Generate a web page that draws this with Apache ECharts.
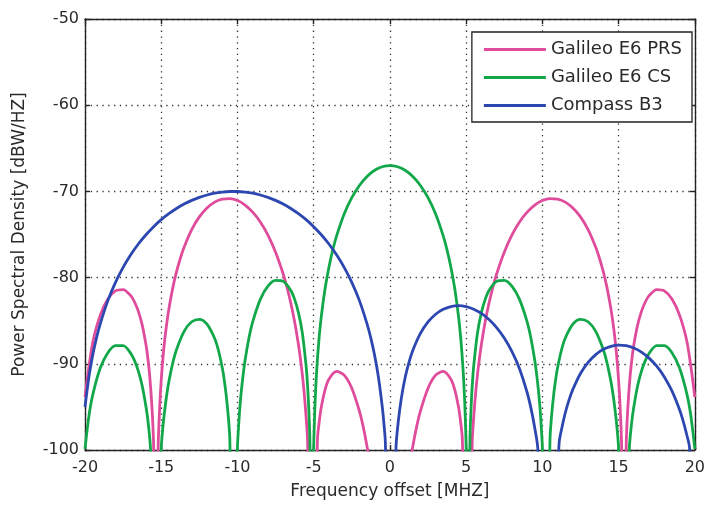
<!DOCTYPE html>
<html>
<head>
<meta charset="utf-8">
<script src="https://cdn.jsdelivr.net/npm/echarts@6/dist/echarts.min.js"></script>
<style>
    html, body { margin: 0; padding: 0; background: #fff; }
    #chart { width: 708px; height: 506px; }
</style>
</head>
<body>
<div id="chart"></div>
<script>
// values, one line per lobe; -125 / -130 mark spectral nulls (below the -100 floor, clipped)
var prsX = [
    -20, -19.5, -19, -18.5, -18, -17.5, -17, -16.75, -16.5, -16.25, -16, -15.875, -15.75, -15.6, -15.5, -15.345,
    -15.2, -15.1, -15, -14.875, -14.75, -14.625, -14.5, -14.25, -14, -13.75, -13.5, -13, -12.5, -12, -11.5, -11, -10.5, -10, -9.5, -9, -8.5, -8, -7.5, -7, -6.75, -6.5, -6.25, -6, -5.875, -5.75, -5.625, -5.5, -5.4, -5.115,
    -4.75, -4.625, -4.5, -4.25, -4, -3.5, -3, -2.5, -2, -1.75, -1.5, -1.25, 0,
    1.25, 1.5, 1.75, 2, 2.5, 3, 3.5, 4, 4.25, 4.5, 4.625, 4.75, 5.115,
    5.4, 5.5, 5.625, 5.75, 5.875, 6, 6.25, 6.5, 6.75, 7, 7.5, 8, 8.5, 9, 9.5, 10, 10.5, 11, 11.5, 12, 12.5, 13, 13.5, 13.75, 14, 14.25, 14.5, 14.625, 14.75, 14.875, 15, 15.1, 15.2, 15.345,
    15.5, 15.6, 15.75, 15.875, 16, 16.25, 16.5, 16.75, 17, 17.5, 18, 18.5, 19, 19.5, 20];
var prsY = [
    -93.85, -87.6, -84.35, -82.48, -81.54, -81.39, -82.09, -82.83, -83.92, -85.49, -87.8, -89.41, -91.53, -95.29, -99.48, -125,
    -99.67, -94.99, -91.9, -89.08, -86.91, -85.15, -83.66, -81.25, -79.34, -77.78, -76.47, -74.43, -72.96, -71.93, -71.24, -70.89, -70.84, -71.06, -71.58, -72.41, -73.55, -75.07, -77.06, -79.58, -81.15, -82.96, -85.11, -87.76, -89.34, -91.16, -93.35, -96.1, -98.96, -125,
    -98.7, -96.56, -95.02, -92.99, -91.79, -90.89, -91.32, -92.83, -95.49, -97.32, -99.6, -102.4, -130,
    -102.4, -99.6, -97.32, -95.49, -92.83, -91.32, -90.89, -91.79, -92.99, -95.02, -96.56, -98.7, -125,
    -98.96, -96.1, -93.35, -91.16, -89.34, -87.76, -85.11, -82.96, -81.15, -79.58, -77.06, -75.07, -73.55, -72.41, -71.58, -71.06, -70.84, -70.89, -71.24, -71.93, -72.96, -74.43, -76.47, -77.78, -79.34, -81.25, -83.66, -85.15, -86.91, -89.08, -91.9, -94.99, -99.67, -125,
    -99.48, -95.29, -91.53, -89.41, -87.8, -85.49, -83.92, -82.83, -82.09, -81.39, -81.54, -82.48, -84.35, -87.6, -93.85];

var csX = [
    -20, -19.75, -19.5, -19, -18.5, -18, -17.5, -17, -16.75, -16.5, -16.25, -16, -15.85, -15.7, -15.345,
    -15, -14.9, -14.8, -14.65, -14.5, -14.25, -14, -13.5, -13, -12.5, -12, -11.5, -11.25, -11, -10.9, -10.75, -10.6, -10.5, -10.23,
    -10, -9.9, -9.8, -9.65, -9.5, -9.25, -9, -8.5, -8, -7.5, -7, -6.5, -6.25, -6, -5.75, -5.5, -5.42, -5.35, -5.25, -5.115,
    -5, -4.95, -4.9, -4.8, -4.65, -4.5, -4.25, -4, -3.75, -3.5, -3, -2.5, -2, -1.5, -1, -0.5, 0, 0.5, 1, 1.5, 2, 2.5, 3, 3.5, 3.75, 4, 4.25, 4.5, 4.65, 4.8, 4.9, 4.95, 5, 5.115,
    5.25, 5.35, 5.42, 5.5, 5.75, 6, 6.25, 6.5, 7, 7.5, 8, 8.5, 9, 9.25, 9.5, 9.65, 9.8, 9.9, 10, 10.23,
    10.5, 10.6, 10.75, 10.9, 11, 11.25, 11.5, 12, 12.5, 13, 13.5, 14, 14.25, 14.5, 14.65, 14.8, 14.9, 15, 15.345,
    15.7, 15.85, 16, 16.25, 16.5, 16.75, 17, 17.5, 18, 18.5, 19, 19.5, 19.75, 20];
var csY = [
    -99.88, -96.16, -93.66, -90.49, -88.71, -87.89, -87.89, -88.78, -89.63, -90.84, -92.54, -94.99, -96.93, -99.98, -125,
    -99.83, -97.5, -95.84, -93.74, -92.08, -89.95, -88.36, -86.23, -85.12, -84.84, -85.41, -87.04, -88.43, -90.42, -91.47, -93.46, -96.14, -98.8, -125,
    -99.77, -96.54, -94.15, -91.6, -89.58, -87.03, -85.13, -82.53, -81.0, -80.32, -80.43, -81.5, -82.53, -84.06, -86.36, -90.18, -92.0, -94.14, -98.8, -125,
    -99.77, -96.54, -94.15, -90.71, -87.12, -84.49, -81.24, -78.79, -76.82, -75.19, -72.63, -70.73, -69.31, -68.27, -67.55, -67.14, -67, -67.14, -67.55, -68.27, -69.31, -70.73, -72.63, -75.19, -76.82, -78.79, -81.24, -84.49, -87.12, -90.71, -94.15, -96.54, -99.77, -125,
    -98.8, -94.14, -92.0, -90.18, -86.36, -84.06, -82.53, -81.5, -80.43, -80.32, -81.0, -82.53, -85.13, -87.03, -89.58, -91.6, -94.15, -96.54, -99.77, -125,
    -98.8, -96.14, -93.46, -91.47, -90.42, -88.43, -87.04, -85.41, -84.84, -85.12, -86.23, -88.36, -89.95, -92.08, -93.74, -95.84, -97.5, -99.83, -125,
    -99.98, -96.93, -94.99, -92.54, -90.84, -89.63, -88.78, -87.89, -87.89, -88.71, -90.49, -93.66, -96.16, -99.88];

var b3X = [
    -20, -19.75, -19.5, -19.25, -19, -18.5, -18, -17.5, -17, -16.5, -16, -15.5, -15, -14.5, -14, -13.5, -13, -12.5, -12, -11.5, -11, -10.5,
    -10, -9.5, -9, -8.5, -8, -7.5, -7, -6.5, -6, -5.5, -5, -4.5, -4, -3.5, -3, -2.5, -2, -1.5, -1.25, -1, -0.75, -0.5, -0.4, -0.3, 0.05,
    0.4, 0.55, 0.75, 1, 1.25, 1.5, 2, 2.5, 3, 3.5, 4, 4.5, 5, 5.5, 6, 6.5, 7, 7.5, 8, 8.5, 9, 9.25, 9.5, 9.7, 10.35,
    11.1, 11.25, 11.5, 11.75, 12, 12.5, 13, 13.5, 14, 14.5, 15, 15.5, 16, 16.5, 17, 17.5, 18, 18.5, 19, 19.25, 19.5, 19.65, 20.65];
var b3Y = [
    -95.01, -91.58, -89.05, -87.03, -85.36, -82.67, -80.55, -78.81, -77.35, -76.1, -75.03, -74.09, -73.28, -72.59, -71.98, -71.47, -71.04, -70.69, -70.42, -70.21, -70.08, -70.01,
    -70.01, -70.08, -70.21, -70.42, -70.69, -71.04, -71.47, -71.98, -72.59, -73.28, -74.09, -75.03, -76.1, -77.35, -78.81, -80.55, -82.67, -85.36, -87.03, -89.05, -91.58, -95.01, -96.8, -99.07, -125,
    -99.68, -96.69, -93.99, -91.59, -89.83, -88.46, -86.48, -85.15, -84.25, -83.68, -83.36, -83.26, -83.37, -83.67, -84.16, -84.87, -85.8, -87.01, -88.56, -90.57, -93.33, -95.14, -97.43, -99.8, -125,
    -99.16, -97.67, -95.71, -94.19, -92.97, -91.12, -89.83, -88.93, -88.32, -87.97, -87.83, -87.9, -88.17, -88.64, -89.34, -90.28, -91.52, -93.15, -95.34, -96.74, -98.43, -99.65, -125];

var seriesNames = ['Galileo E6 PRS', 'Galileo E6 CS', 'Compass B3'];
var seriesColors = ['#e04c9c', '#12a84a', '#2c47b0'];

var FONT = 'DejaVu Sans';
var TEXT = '#2a2a2a';

function pairs(xs, ys) {
    var out = [];
    for (var i = 0; i < xs.length; i++) {
        out.push([xs[i], ys[i]]);
    }
    return out;
}

var gridLine = { show: true, lineStyle: { color: '#333', width: 1.3, type: [1.3, 4.5] } };
var frameLine = { show: true, onZero: false, lineStyle: { color: '#222', width: 1.4 } };
var innerTick = { show: true, inside: true, length: 5, lineStyle: { color: '#222', width: 1.4 } };

var chart = echarts.init(document.getElementById('chart'), null, { renderer: 'canvas' });

chart.setOption({
    animation: false,
    backgroundColor: '#fff',
    color: seriesColors,
    grid: { left: 85, right: 9, top: 19, bottom: 56 },
    legend: {
        orient: 'vertical',
        right: 16,
        top: 32,
        data: seriesNames,
        icon: 'rect',
        itemWidth: 62,
        itemHeight: 3,
        itemGap: 9,
        padding: [8, 10, 7, 12],
        backgroundColor: '#fff',
        borderColor: '#222',
        borderWidth: 1.3,
        borderRadius: 0,
        textStyle: { fontFamily: FONT, fontSize: 18, color: TEXT, lineHeight: 19 }
    },
    xAxis: [{
        type: 'value',
        min: -20,
        max: 20,
        interval: 5,
        position: 'bottom',
        name: 'Frequency offset [MHZ]',
        nameLocation: 'middle',
        nameGap: 33,
        nameTextStyle: { fontFamily: FONT, fontSize: 17, color: TEXT },
        axisLine: frameLine,
        axisTick: innerTick,
        axisLabel: { fontFamily: FONT, fontSize: 16, color: TEXT, margin: 10 },
        splitLine: gridLine
    }, {
        type: 'value',
        min: -20,
        max: 20,
        interval: 5,
        position: 'top',
        axisLine: frameLine,
        axisTick: innerTick,
        axisLabel: { show: false },
        splitLine: { show: false }
    }],
    yAxis: [{
        type: 'value',
        min: -100,
        max: -50,
        interval: 10,
        position: 'left',
        name: 'Power Spectral Density [dBW/HZ]',
        nameLocation: 'middle',
        nameGap: 57,
        nameTextStyle: { fontFamily: FONT, fontSize: 17, color: TEXT },
        axisLine: frameLine,
        axisTick: innerTick,
        axisLabel: { fontFamily: FONT, fontSize: 16, color: TEXT, margin: 6 },
        splitLine: gridLine
    }, {
        type: 'value',
        min: -100,
        max: -50,
        interval: 10,
        position: 'right',
        axisLine: frameLine,
        axisTick: innerTick,
        axisLabel: { show: false },
        splitLine: { show: false }
    }],
    series: [
        { name: seriesNames[0], data: pairs(prsX, prsY) },
        { name: seriesNames[1], data: pairs(csX, csY) },
        { name: seriesNames[2], data: pairs(b3X, b3Y) }
    ].map(function (s, i) {
        return {
            name: s.name,
            type: 'line',
            xAxisIndex: 0,
            yAxisIndex: 0,
            data: s.data,
            showSymbol: false,
            symbol: 'none',
            smooth: 0.3,
            clip: true,
            lineStyle: { width: 2.8, color: seriesColors[i], join: 'round' },
            itemStyle: { color: seriesColors[i] }
        };
    })
});
</script>
</body>
</html>
